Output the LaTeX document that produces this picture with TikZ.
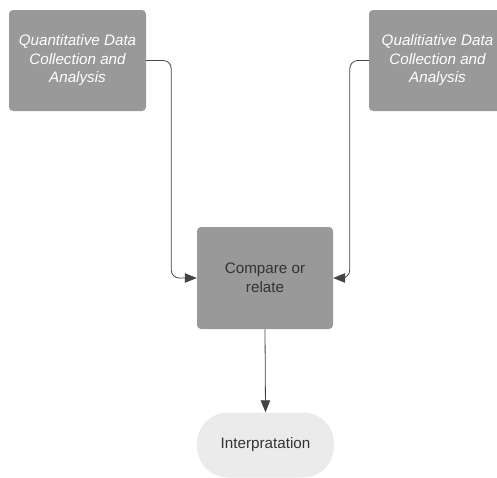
\documentclass[tikz,border=0pt]{standalone}
\usepackage{fontspec}
\setmainfont{Liberation Sans}
\usetikzlibrary{arrows.meta}
\definecolor{boxgray}{HTML}{999999}
\definecolor{lightbox}{HTML}{EBEBEB}
\definecolor{txtdark}{HTML}{333333}
\definecolor{linegray}{HTML}{444444}
\tikzset{
  darkbox/.style={fill=boxgray, draw=none, rounded corners=4pt, minimum width=137pt, minimum height=101pt, align=center, inner sep=0pt, font=\fontsize{15.2}{18.5}\selectfont},
  topbox/.style={darkbox, text=white, font=\fontsize{15.2}{18.5}\selectfont\itshape},
  midbox/.style={darkbox, text=txtdark, minimum height=102pt, minimum width=136pt},
  endbox/.style={fill=lightbox, draw=none, rounded corners=31pt, minimum width=137pt, minimum height=65pt, text=txtdark, inner sep=0pt, font=\fontsize{15.2}{18.5}\selectfont},
  conn/.style={draw=linegray, line width=0.8pt, rounded corners=8pt, -{Triangle[length=12pt,width=9.5pt]}, color=linegray}
}
\begin{document}
\begin{tikzpicture}[x=1pt,y=-1pt]
\useasboundingbox (0,0) rectangle (497,477);
\node[topbox] (q) at (77.5,60.5) {Quantitative Data\\Collection and\\Analysis};
\node[topbox] (ql) at (437.5,60.5) {Qualitiative Data\\Collection and\\Analysis};
\node[midbox] (c) at (265,278) {Compare or\\relate};
\node[endbox] (i) at (265.5,445) {Interpratation};
\draw[conn] (q.east) -- ++(25,0) |- (c.west);
\draw[conn] (ql.west) -- ++(-19,0) |- (c.east);
\draw[conn] (c.south) -- (i.north);
\end{tikzpicture}
\end{document}
